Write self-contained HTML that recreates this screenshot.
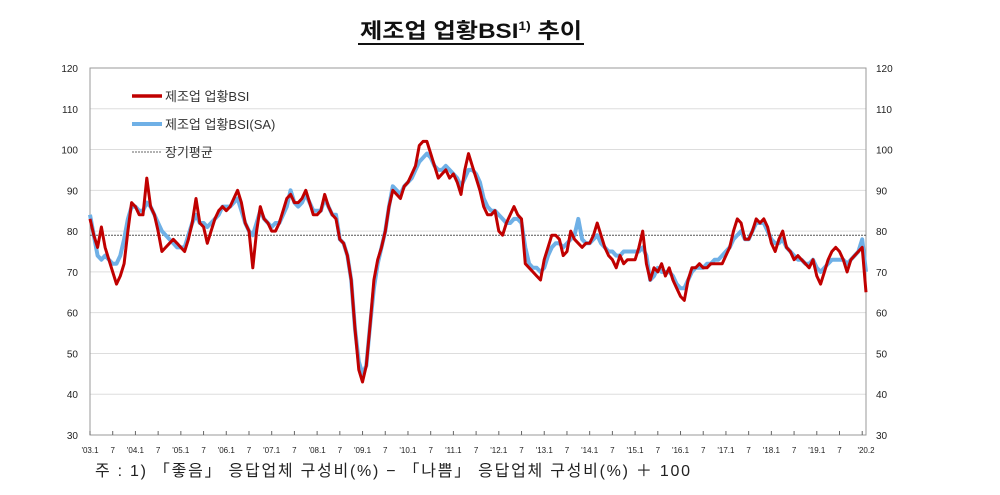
<!DOCTYPE html>
<html><head><meta charset="utf-8"><style>
body{margin:0;background:#fff;width:1000px;height:490px;overflow:hidden;font-family:"Liberation Sans","Noto Sans CJK KR",sans-serif}
</style></head><body>
<svg id="chart" width="1000" height="490" xmlns="http://www.w3.org/2000/svg" font-family="Liberation Sans, Noto Sans CJK KR, sans-serif">
<text x="360" y="38" font-size="21" font-weight="bold" fill="#111" textLength="222" lengthAdjust="spacingAndGlyphs">제조업 업황BSI<tspan font-size="12" dy="-8">1)</tspan><tspan dy="8"> 추이</tspan></text>
<line x1="358" y1="44" x2="584" y2="44" stroke="#111" stroke-width="2"/>
<g id="grid"></g><g id="axes"></g><g id="series"></g>
<g>
<line x1="132" y1="96" x2="162" y2="96" stroke="#c00000" stroke-width="3.5"/>
<text x="165" y="101" font-size="13" fill="#333">제조업 업황BSI</text>
<line x1="132" y1="124" x2="162" y2="124" stroke="#6fb0e6" stroke-width="4"/>
<text x="165" y="129" font-size="13" fill="#333">제조업 업황BSI(SA)</text>
<line x1="132" y1="152" x2="162" y2="152" stroke="#666" stroke-width="1" stroke-dasharray="2,1"/>
<text x="165" y="157" font-size="13" fill="#333">장기평균</text>
</g>
<text x="95" y="476" font-size="16" fill="#222" textLength="595" lengthAdjust="spacing">주 : 1) 「좋음」 응답업체 구성비(%) − 「나쁨」 응답업체 구성비(%) ＋ 100</text>
</svg>
<script>
const yTicks=[30,40,50,60,70,80,90,100,110,120];
const years=["'03","'04","'05","'06","'07","'08","'09","'10","'11","'12","'13","'14","'15","'16","'17","'18","'19","'20"];
const longAvg=79;
const bsi=[83,79,76,81,76,73,70,67,69,72,80,87,
86,84,84,93,86,84,80,75,76,77,78,77,
76,75,78,82,88,82,81,77,80,83,85,86,
85,86,88,90,87,82,80,71,80,86,83,82,
80,80,82,85,88,89,87,87,88,90,87,84,
84,85,89,86,84,83,78,77,74,68,56,46,
43,47,57,68,73,76,80,86,90,89,88,91,
92,94,96,101,102,102,99,96,93,94,95,93,
94,92,89,95,99,96,93,90,86,84,84,85,
80,79,82,84,86,84,83,72,71,70,69,68,
73,76,79,79,78,74,75,80,78,77,76,77,
77,79,82,79,76,74,73,71,74,72,73,73,
73,76,80,72,68,71,70,72,69,71,68,66,
64,63,68,71,71,72,71,71,72,72,72,72,
74,76,80,83,82,78,78,80,83,82,83,81,
77,75,78,80,76,75,73,74,73,72,71,73,
69,67,70,73,75,76,75,73,70,73,74,75,
76,65];
const bsiSA=[84,79,74,73,74,73,72,72,74,78,83,86,
86,85,85,87,86,84,82,80,79,78,77,76,
76,76,79,82,84,82,82,81,82,83,84,86,
86,86,87,88,85,82,80,79,82,85,83,82,
81,82,82,84,86,90,87,86,87,89,87,85,
85,85,88,86,84,84,78,77,74,68,56,48,
45,47,57,66,72,76,80,86,91,90,89,91,
92,93,95,97,98,99,98,96,95,95,96,95,
94,93,91,93,95,95,94,92,88,86,85,85,
84,83,82,82,83,83,82,76,72,71,71,70,
71,74,76,77,77,76,77,78,79,83,78,77,
77,78,79,77,76,75,75,74,74,75,75,75,
75,75,76,74,68,69,71,70,70,70,69,67,
66,66,68,70,71,71,71,72,72,73,73,74,
75,76,78,79,80,78,78,80,82,82,82,80,
78,77,77,78,76,75,74,73,73,72,72,73,
71,70,71,72,73,73,73,73,72,73,74,75,
78,70];
const X0=90,X1=866,Y0=435,Y1=68,N=205;
const x=i=>X0+(X1-X0)*i/N;
const y=v=>Y0-(Y0-Y1)*(v-30)/90;
const NS="http://www.w3.org/2000/svg";
function mk(t,a,p){const e=document.createElementNS(NS,t);for(const k in a)e.setAttribute(k,a[k]);p.appendChild(e);return e;}
const grid=document.getElementById('grid'),axes=document.getElementById('axes'),ser=document.getElementById('series');
yTicks.forEach(v=>{
 if(v>30){const g=mk('line',{x1:X0,x2:X1,y1:y(v),y2:y(v),stroke:'#ddd','stroke-width':1},grid);
 
 }
 const l=mk('text',{x:78,y:y(v)+4,'text-anchor':'end','font-size':10,fill:'#222'},axes);l.textContent=v;
 
 
 const r=mk('text',{x:876,y:y(v)+4,'font-size':10,fill:'#222'},axes);r.textContent=v;
 
 
});
const bx=mk('rect',{x:X0,y:Y1,width:X1-X0,height:Y0-Y1,fill:'none',stroke:'#999','stroke-width':1},axes);


for(let i=0;i<=N;i+=6){
 mk('line',{x1:x(i),x2:x(i),y1:Y0,y2:Y0-4,stroke:'#666'},axes);
 const yr=Math.floor(i/12),lab=(i%12===0)?years[yr]+'.'+(i===204?'2':'1'):'7';
 const t=mk('text',{x:x(i===204?205:i),y:453,'text-anchor':'middle','font-size':8,fill:'#222'},axes);t.textContent=lab;
 
 
}
const avg=mk('line',{x1:X0,x2:X1,y1:y(longAvg),y2:y(longAvg),stroke:'#555','stroke-width':1,'stroke-dasharray':'2,1'},ser);


const pts=a=>a.map((v,i)=>x(i).toFixed(1)+','+y(v).toFixed(1)).join(' ');
const sa=mk('polyline',{points:pts(bsiSA),fill:'none',stroke:'#6fb0e6','stroke-width':4,'stroke-linejoin':'round'},ser);


const rd=mk('polyline',{points:pts(bsi),fill:'none',stroke:'#c00000','stroke-width':3,'stroke-linejoin':'round'},ser);


</script>
</body></html>
